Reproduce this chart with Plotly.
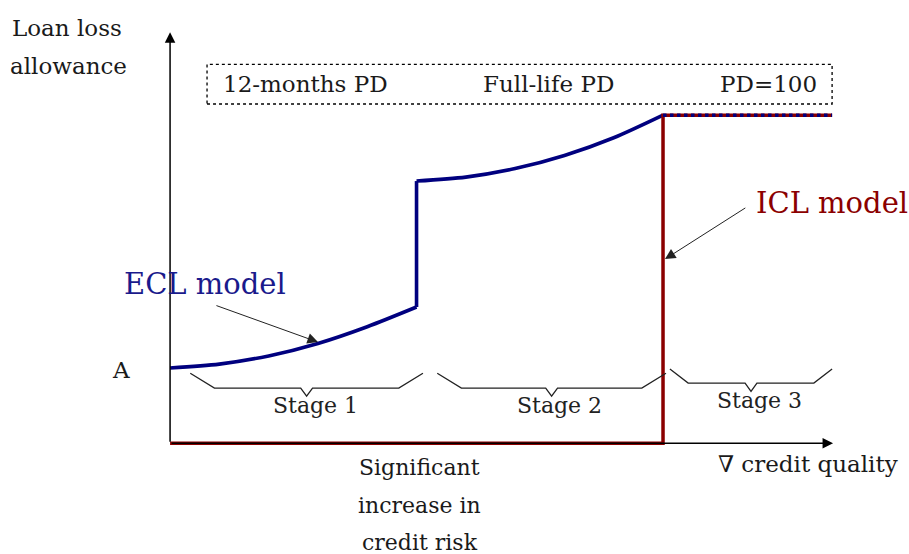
import plotly.graph_objects as go

# ---- data (schematic units: x = deterioration of credit quality, y = loss allowance) ----
x_stage1 = [0, 1, 2, 3, 4, 5]
ecl_stage1 = [22.9, 24.1, 26.6, 30.4, 35.5, 41.5]
x_stage2 = [5, 6, 7, 8, 9, 10]
ecl_stage2 = [79.9, 81.1, 83.7, 87.7, 93.1, 100]
x_stage3 = [10, 13.43]
ecl_stage3 = [100, 100]
icl_x = [0, 10, 10, 13.43]
icl_y = [0, 0, 100, 100]

stage_labels = ["Stage 1", "Stage 2", "Stage 3"]
stage_start = [0.41, 5.42, 10.14]
stage_end = [5.13, 10.06, 13.43]
pd_labels = ["12-months PD", "Full-life PD", "PD=100"]
pd_label_x = [2.74, 7.67, 12.13]

NAVY = "#00007f"
DRED = "#8b0000"
FONT = "DejaVu Serif"
TXT = "#1a1a1a"

fig = go.Figure()

def line(x, y, color, width, dash="solid", shape="linear"):
    fig.add_trace(go.Scatter(x=x, y=y, mode="lines",
                             line=dict(color=color, width=width, dash=dash, shape=shape,
                                       smoothing=0.8 if shape == "spline" else None),
                             hoverinfo="skip", showlegend=False))

# axes with arrows (drawn first so curves sit on top)
fig.add_annotation(x=0, y=125.3, ax=0, ay=0, axref="x", ayref="y", text="",
                   showarrow=True, arrowhead=2, arrowsize=1.4, arrowwidth=1.5,
                   arrowcolor="black")
fig.add_annotation(x=13.45, y=0, ax=0, ay=0, axref="x", ayref="y", text="",
                   showarrow=True, arrowhead=2, arrowsize=1.4, arrowwidth=1.5,
                   arrowcolor="black")

# ECL model (blue)
line(x_stage1, ecl_stage1, NAVY, 3.6, shape="spline")
line([x_stage1[-1], x_stage2[0]], [ecl_stage1[-1], ecl_stage2[0]], NAVY, 3.6)
line(x_stage2, ecl_stage2, NAVY, 3.6, shape="spline")
# ICL model (red)
line(icl_x, icl_y, DRED, 3.5)
# stage 3: blue dotted over red
line(x_stage3, ecl_stage3, NAVY, 3.5, dash="dot")

# braces under each stage
for i, (s, e) in enumerate(zip(stage_start, stage_end)):
    if i < 2:
        y_end, y_flat, y_tip, off = 21.3, 16.8, 14.3, 0.49
    else:
        y_end, y_flat, y_tip, off = 22.6, 18.3, 15.8, 0.37
    m = (s + e) / 2
    bx = [s, s + off, m - 0.12, m, m + 0.12, e - off, e]
    by = [y_end, y_flat, y_flat, y_tip, y_flat, y_flat, y_end]
    line(bx, by, "#222222", 1.3)
    fig.add_annotation(x=m + (0.17 if i < 2 else 0.18), y=11.6 if i < 2 else 13.1,
                       text=stage_labels[i], showarrow=False,
                       font=dict(family=FONT, size=22, color="#222222"),
                       xanchor="center", yanchor="middle")

# dotted box with PD labels
fig.add_shape(type="rect", x0=0.75, x1=13.43, y0=103.4, y1=115.5,
              line=dict(color="black", width=1.3, dash="dot"))
for lab, lx in zip(pd_labels, pd_label_x):
    fig.add_annotation(x=lx, y=109.5, text=lab, showarrow=False,
                       font=dict(family=FONT, size=23, color=TXT),
                       xanchor="center", yanchor="middle")

# model labels and pointers
fig.add_annotation(x=0.71, y=48.5, text="ECL model", showarrow=False,
                   font=dict(family=FONT, size=29, color="#1a1a8c"),
                   xanchor="center", yanchor="middle")
fig.add_annotation(x=3.0, y=30.8, ax=0.91, ay=42.1, axref="x", ayref="y", text="",
                   showarrow=True, arrowhead=2, arrowsize=2.1, arrowwidth=1,
                   arrowcolor="#222222")
fig.add_annotation(x=13.43, y=73.2, text="ICL model", showarrow=False,
                   font=dict(family=FONT, size=29, color=DRED),
                   xanchor="center", yanchor="middle")
fig.add_annotation(x=10.04, y=56.1, ax=11.70, ay=72.0, axref="x", ayref="y", text="",
                   showarrow=True, arrowhead=2, arrowsize=2.1, arrowwidth=1,
                   arrowcolor="#222222")

# axis texts
fig.add_annotation(x=-2.09, y=126.5, text="Loan loss", showarrow=False,
                   font=dict(family=FONT, size=23, color=TXT),
                   xanchor="center", yanchor="middle")
fig.add_annotation(x=-2.07, y=114.9, text="allowance", showarrow=False,
                   font=dict(family=FONT, size=23, color=TXT),
                   xanchor="center", yanchor="middle")
fig.add_annotation(x=-0.99, y=22.3, text="A", showarrow=False,
                   font=dict(family=FONT, size=23, color=TXT),
                   xanchor="center", yanchor="middle")
for txt, yy in zip(["Significant", "increase in", "credit risk"], [-7.3, -18.9, -30.2]):
    fig.add_annotation(x=5.07, y=yy, text=txt, showarrow=False,
                       font=dict(family=FONT, size=22, color=TXT),
                       xanchor="center", yanchor="middle")
fig.add_annotation(x=12.94, y=-6.4, text="∇ credit quality", showarrow=False,
                   font=dict(family=FONT, size=23, color=TXT),
                   xanchor="center", yanchor="middle")

fig.update_layout(
    width=909, height=554,
    margin=dict(l=0, r=0, t=0, b=0),
    paper_bgcolor="white", plot_bgcolor="white",
    xaxis=dict(range=[-3.45, 14.99], visible=False, fixedrange=True),
    yaxis=dict(range=[-33.8, 135.1], visible=False, fixedrange=True),
    showlegend=False,
)

fig.write_html("out.html", config={"displayModeBar": False},
               post_script="document.body.style.margin='0';")
